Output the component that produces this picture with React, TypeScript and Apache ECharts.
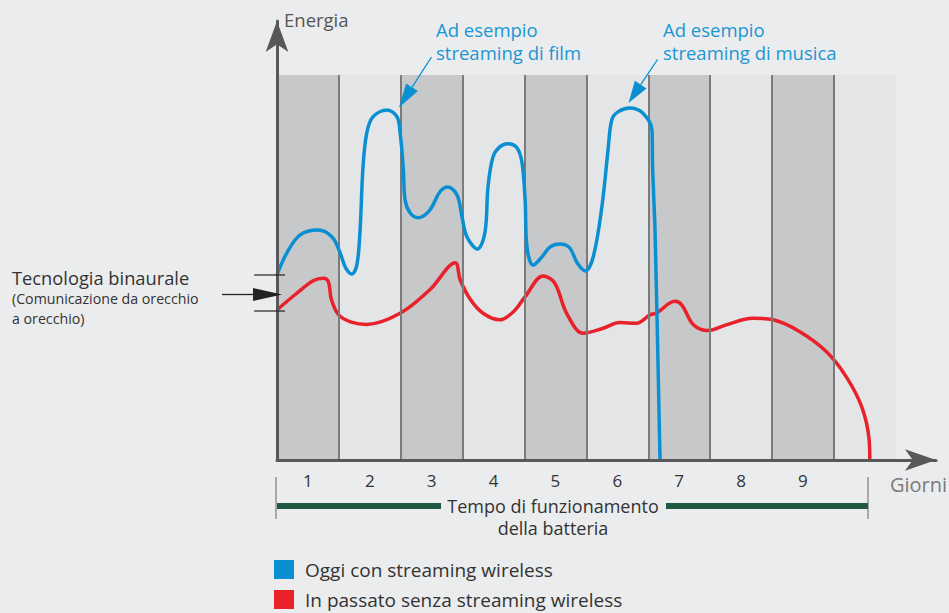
import React, { useEffect, useRef } from 'react';
import * as echarts from 'echarts';

const dayLabels = ['1', '2', '3', '4', '5', '6', '7', '8', '9'];
const stripeCount = 10;
const stripeTop = 100;
const dividerDays = [1, 2, 3, 4, 5, 6, 7, 8, 9];

const todayName = 'Oggi con streaming wireless';
const pastName = 'In passato senza streaming wireless';

const todayStreaming: [number, number][] = [
  [0, 48.1], [0.16, 53.8], [0.37, 58.4], [0.66, 59.7], [0.89, 57.9], [1.02, 53.8], [1.11, 49.9],
  [1.21, 48.3], [1.29, 50.6], [1.34, 59.0], [1.39, 76.1], [1.45, 84.9], [1.55, 89.1], [1.78, 90.9],
  [1.94, 89.1], [1.99, 84.9], [2.04, 76.1], [2.07, 67.5], [2.15, 64.2], [2.28, 62.9], [2.47, 64.9],
  [2.63, 69.6], [2.76, 70.9], [2.91, 68.8], [2.99, 63.1], [3.07, 57.9], [3.24, 54.8], [3.36, 59.0],
  [3.41, 70.9], [3.49, 78.7], [3.60, 81.3], [3.73, 82.1], [3.88, 81.0], [3.96, 77.1], [4.01, 67.5],
  [4.04, 55.3], [4.14, 50.6], [4.28, 52.7], [4.41, 55.3], [4.57, 56.1], [4.73, 55.1], [4.85, 51.2],
  [4.98, 49.1], [5.11, 52.7], [5.25, 65.7], [5.35, 80.5], [5.41, 88.3], [5.51, 90.4], [5.70, 91.4],
  [5.91, 90.1], [6.06, 85.7], [6.07, 76.1], [6.11, 59.0], [6.19, 0]
];

// the peak at day ~2.9 is a sharp corner in the original, so it is listed twice
const pastNoStreaming: [number, number][] = [
  [0, 39.0], [0.32, 43.3], [0.59, 46.6], [0.75, 47.2], [0.83, 46.3], [0.88, 41.6], [1.0, 37.6],
  [1.2, 35.8], [1.45, 35.2], [1.99, 38.1], [2.47, 44.2], [2.88, 51.2], [2.88, 51.2], [2.96, 46.8], [3.12, 41.8],
  [3.33, 38.1], [3.60, 36.4], [3.82, 38.5], [4.01, 42.4], [4.30, 47.8], [4.49, 45.9], [4.68, 38.1],
  [4.95, 32.9], [5.27, 34.2], [5.54, 35.7], [5.81, 35.5], [6.03, 37.7], [6.13, 38.1], [6.43, 41.2],
  [6.54, 40.3], [6.73, 35.1], [6.97, 33.6], [7.26, 35.1], [7.69, 36.8], [8.02, 36.4], [8.45, 33.3],
  [8.88, 28.1], [9.20, 21.6], [9.45, 13.8], [9.57, 5.2], [9.58, 0]
];

const FONT = '"Open Sans", Lato, sans-serif';
const BLUE = '#0a90d2';
const BLUE_TEXT = '#1a96d4';
const RED = '#e8212b';
const GREEN = '#1d5a40';
const AXIS = '#58585a';

function arrowHead(tail: number[], tip: number[], len: number, half: number) {
  const dx = tip[0] - tail[0];
  const dy = tip[1] - tail[1];
  const d = Math.sqrt(dx * dx + dy * dy);
  const ux = dx / d, uy = dy / d;
  const bx = tip[0] - ux * len, by = tip[1] - uy * len;
  const px = -uy, py = ux;
  return {
    base: [bx, by],
    points: [tip, [bx + px * half, by + py * half], [bx - px * half, by - py * half]]
  };
}

function annotationArrow(tail: number[], tip: number[], color: string, len: number, half: number, width: number) {
  const h = arrowHead(tail, tip, len, half);
  return [
    { type: 'line', shape: { x1: tail[0], y1: tail[1], x2: h.base[0], y2: h.base[1] }, style: { stroke: color, lineWidth: width }, z: 20 },
    { type: 'polygon', shape: { points: h.points }, style: { fill: color }, z: 20 }
  ];
}

function txt(text: string, x: number, y: number, size: number, color: string, align = 'left', lineHeight?: number) {
  return {
    type: 'text', x, y, z: 20,
    style: {
      text, font: `${size}px ${FONT}`, fill: color, textAlign: align, align,
      textVerticalAlign: 'middle', verticalAlign: 'middle',
      lineHeight: lineHeight || Math.round(size * 1.3)
    }
  };
}

export default function App() {
  const ref = useRef<HTMLDivElement>(null);
  useEffect(() => {
    if (!ref.current) return;
    const chart = echarts.init(ref.current, undefined, { renderer: 'svg' });

    const stripes = [];
    for (let i = 0; i < stripeCount; i++) {
      stripes.push([
        { xAxis: i, yAxis: 0, itemStyle: { color: i % 2 === 0 ? '#c7c8ca' : '#e4e5e7' } },
        { xAxis: i + 1, yAxis: stripeTop }
      ]);
    }
    const dividers = dividerDays.map((d) => [{ coord: [d, 0] }, { coord: [d, stripeTop] }]);

    const graphic: any[] = [
      txt('Energia', 284, 19, 18.5, '#555'),
      txt('Giorni', 890, 484, 20, '#7a7a7a'),
      txt('Ad esempio\nstreaming di film', 436, 41, 18.5, BLUE_TEXT, 'left', 23),
      txt('Ad esempio\nstreaming di musica', 663, 41, 18.5, BLUE_TEXT, 'left', 23),
      ...annotationArrow([431.5, 57], [399, 107.5], BLUE, 24, 7, 1.3),
      ...annotationArrow([657.5, 59.5], [628.5, 103], BLUE, 22, 7, 1.3),
      txt('Tecnologia binaurale', 12, 277, 18.3, '#333'),
      txt('(Comunicazione da orecchio\na orecchio)', 12, 308, 14.2, '#333', 'left', 20),
      { type: 'line', shape: { x1: 254, y1: 275, x2: 285, y2: 275 }, style: { stroke: '#222', lineWidth: 1.2 }, z: 20 },
      { type: 'line', shape: { x1: 254, y1: 311, x2: 285, y2: 311 }, style: { stroke: '#222', lineWidth: 1.2 }, z: 20 },
      ...annotationArrow([222, 294.5], [282, 294.5], '#222', 29, 6.5, 1.3),
      { type: 'line', shape: { x1: 276, y1: 477, x2: 276, y2: 519 }, style: { stroke: '#666', lineWidth: 1 }, z: 20 },
      { type: 'line', shape: { x1: 868, y1: 477, x2: 868, y2: 519 }, style: { stroke: '#666', lineWidth: 1 }, z: 20 },
      { type: 'rect', shape: { x: 277, y: 503, width: 164, height: 6 }, style: { fill: GREEN }, z: 20 },
      { type: 'rect', shape: { x: 666, y: 503, width: 202, height: 6 }, style: { fill: GREEN }, z: 20 },
      txt('Tempo di funzionamento\ndella batteria', 553, 517, 18, '#333', 'center', 22)
    ];

    chart.setOption({
      animation: false,
      backgroundColor: '#ebeced',
      grid: { left: 277, right: 13, top: 21, bottom: 153, containLabel: false },
      legend: {
        data: [todayName, pastName],
        orient: 'vertical',
        left: 274,
        top: 560,
        height: 60,
        padding: 0,
        icon: 'rect',
        itemWidth: 20,
        itemHeight: 19,
        itemGap: 11,
        selectedMode: false,
        textStyle: { fontFamily: FONT, fontSize: 19, color: '#333', padding: [0, 0, 0, 6] }
      },
      xAxis: {
        type: 'value',
        min: 0,
        max: 10.65,
        interval: 0.5,
        z: 10,
        axisLine: { show: true, symbol: ['none', 'arrow'], symbolSize: [16, 31], lineStyle: { color: AXIS, width: 3 } },
        axisTick: { show: false },
        splitLine: { show: false },
        axisLabel: {
          margin: 12,
          fontFamily: FONT,
          fontSize: 17,
          color: '#333',
          showMaxLabel: false,
          formatter: (v: number) => {
            const idx = Math.floor(v);
            return v % 1 === 0.5 && idx < dayLabels.length ? dayLabels[idx] : '';
          }
        }
      },
      yAxis: {
        type: 'value',
        min: 0,
        max: 114,
        z: 10,
        axisLine: { show: true, symbol: ['none', 'arrow'], symbolSize: [17, 31], lineStyle: { color: AXIS, width: 3 } },
        axisTick: { show: false },
        axisLabel: { show: false },
        splitLine: { show: false }
      },
      graphic,
      series: [
        {
          name: 'stripes',
          type: 'line',
          data: [],
          silent: true,
          z: 1,
          markArea: { silent: true, data: stripes },
          markLine: {
            silent: true,
            symbol: 'none',
            label: { show: false },
            lineStyle: { color: '#7b7b7b', width: 2, type: 'solid' },
            data: dividers
          }
        },
        {
          name: pastName,
          type: 'line',
          data: pastNoStreaming,
          smooth: 0.35,
          showSymbol: false,
          z: 4,
          color: RED,
          lineStyle: { color: RED, width: 3.5 }
        },
        {
          name: todayName,
          type: 'line',
          data: todayStreaming,
          smooth: 0.35,
          showSymbol: false,
          z: 5,
          color: BLUE,
          lineStyle: { color: BLUE, width: 3.5 }
        }
      ]
    });
    return () => chart.dispose();
  }, []);
  return <div ref={ref} style={{ position: 'absolute', left: 0, top: 0, width: 949, height: 613 }} />;
}
